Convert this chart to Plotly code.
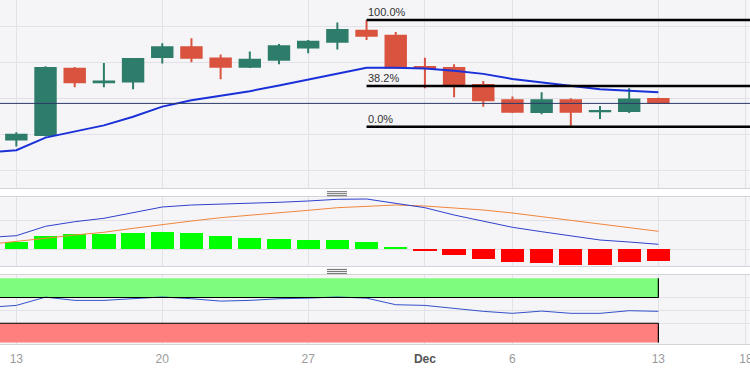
import numpy as np
import plotly.graph_objects as go
from plotly.subplots import make_subplots

# ---------------- data (EUR/USD daily) ----------------
DATES = ["2023-11-10", "2023-11-13", "2023-11-14", "2023-11-15", "2023-11-16", "2023-11-17",
         "2023-11-20", "2023-11-21", "2023-11-22", "2023-11-23", "2023-11-24",
         "2023-11-27", "2023-11-28", "2023-11-29", "2023-11-30", "2023-12-01",
         "2023-12-04", "2023-12-05", "2023-12-06", "2023-12-07", "2023-12-08",
         "2023-12-11", "2023-12-12", "2023-12-13"]
CANDLE_DATES = DATES[1:]

OPEN = [1.0685, 1.0697, 1.0881, 1.0844, 1.0846, 1.0914, 1.0941, 1.0910, 1.0887, 1.0906,
        1.0940, 1.0956, 1.0987, 1.0973, 1.0886, 1.0883, 1.0836, 1.0794, 1.0761, 1.0794,
        1.0763, 1.0764, 1.0797]
HIGH = [1.0705, 1.0888, 1.0886, 1.0897, 1.0910, 1.0952, 1.0966, 1.0921, 1.0929, 1.0950,
        1.0961, 1.1010, 1.1017, 1.0983, 1.0912, 1.0894, 1.0847, 1.0804, 1.0816, 1.0799,
        1.0778, 1.0827, 1.0801]
LOW = [1.0665, 1.0693, 1.0830, 1.0830, 1.0824, 1.0896, 1.0899, 1.0852, 1.0883, 1.0894,
       1.0924, 1.0935, 1.0961, 1.0884, 1.0827, 1.0802, 1.0776, 1.0758, 1.0755, 1.0720,
       1.0742, 1.0758, 1.0783]
CLOSE = [1.0698, 1.0883, 1.0844, 1.0846, 1.0908, 1.0941, 1.0912, 1.0887, 1.0906, 1.0944,
         1.0956, 1.0989, 1.0973, 1.0885, 1.0883, 1.0836, 1.0794, 1.0762, 1.0794, 1.0762,
         1.0764, 1.0796, 1.0787]

MOVING_AVG = [1.0648, 1.0655, 1.0690, 1.0708, 1.0724, 1.0748, 1.0776, 1.0794, 1.0806, 1.0819,
              1.0835, 1.0852, 1.0867, 1.0884, 1.0884, 1.0882, 1.0876, 1.0867, 1.0853, 1.0844,
              1.0834, 1.0824, 1.0820, 1.0816]

MACD = [0.00118, 0.00136, 0.00230, 0.00276, 0.00310, 0.00363, 0.00423, 0.00443, 0.00450, 0.00456,
        0.00470, 0.00483, 0.00500, 0.00503, 0.00460, 0.00416, 0.00343, 0.00283, 0.00220, 0.00176,
        0.00133, 0.00093, 0.00073, 0.00050]
SIGNAL = [0.00048, 0.00076, 0.00110, 0.00143, 0.00170, 0.00210, 0.00250, 0.00283, 0.00316, 0.00343,
          0.00366, 0.00390, 0.00416, 0.00433, 0.00443, 0.00433, 0.00416, 0.00393, 0.00363, 0.00326,
          0.00286, 0.00250, 0.00216, 0.00180]
HISTOGRAM = [0.00073, 0.00133, 0.00146, 0.00146, 0.00160, 0.00173, 0.00156, 0.00126, 0.00106, 0.00100,
             0.00090, 0.00086, 0.00073, 0.00016, -0.00014, -0.00057, -0.00097, -0.00134, -0.00144,
             -0.00157, -0.00157, -0.00134, -0.00124]

RSI = [54.6, 57.7, 70.6, 65.5, 65.5, 68.1, 70.8, 68.1, 64.4, 65.5, 68.1, 69.0, 70.8, 69.0,
       58.8, 57.7, 52.6, 48.5, 45.4, 48.9, 45.4, 45.4, 49.5, 48.5]
RSI_UPPER = 70
RSI_LOWER = 30

LAST_PRICE = 1.0785
FIB_RATIOS = [1.0, 0.382, 0.0]
FIB_LABELS = ["100.0%", "38.2%", "0.0%"]

TICK_DATES = ["2023-11-13", "2023-11-20", "2023-11-27", "2023-12-01", "2023-12-06",
              "2023-12-13", "2023-12-18"]
TICK_TEXT = ["13", "20", "27", "<b><span style='color:#555555'>Dec</span></b>", "6", "13", "18"]

PRICE_GRID_STEP = 0.01
MACD_GRID = [0.0, 0.00286]
RSI_GRID = [30, 50, 70]

# ---------------- styling ----------------
GREEN = "#2e7d6b"
RED = "#d9533f"
BG = "#f5f5f7"
GRID = "#e1e1e7"
BORDER = "#d3d3da"
FONT = "Liberation Sans, Arial, sans-serif"

ORIGIN = np.datetime64("2023-11-13")


def pos(d):
    return int(np.busday_count(ORIGIN, np.datetime64(d)))


x_all = [pos(d) for d in DATES]
x_c = [pos(d) for d in CANDLE_DATES]
x_ticks = [pos(d) for d in TICK_DATES]
X_RANGE = [-0.56, 25.14]

fig = make_subplots(rows=3, cols=1, shared_xaxes=True, vertical_spacing=0.02)

fig.add_trace(go.Candlestick(
    x=x_c, open=OPEN, high=HIGH, low=LOW, close=CLOSE,
    increasing=dict(line=dict(color=GREEN, width=2), fillcolor=GREEN),
    decreasing=dict(line=dict(color=RED, width=2), fillcolor=RED),
    whiskerwidth=0, showlegend=False, hoverinfo="skip"), row=1, col=1)

fig.add_trace(go.Scatter(x=x_all, y=MOVING_AVG, mode="lines",
                         line=dict(color="#1a30d8", width=2), showlegend=False), row=1, col=1)

fig.add_trace(go.Bar(x=x_c, y=HISTOGRAM, width=0.8,
                     marker=dict(color=["#00ff00" if v >= 0 else "#ff0000" for v in HISTOGRAM],
                                 line=dict(width=0)),
                     showlegend=False), row=2, col=1)
fig.add_trace(go.Scatter(x=x_all, y=SIGNAL, mode="lines",
                         line=dict(color="#f0863a", width=1), showlegend=False), row=2, col=1)
fig.add_trace(go.Scatter(x=x_all, y=MACD, mode="lines",
                         line=dict(color="#2f40cc", width=1), showlegend=False), row=2, col=1)

fig.add_trace(go.Scatter(x=x_all, y=RSI, mode="lines",
                         line=dict(color="#3350cc", width=1), showlegend=False), row=3, col=1)

# ---- Fibonacci retracement: swing high, then the lowest low after it ----
hi_i = int(np.argmax(HIGH))
lo_i = hi_i + int(np.argmin(LOW[hi_i:]))
hi, lo = HIGH[hi_i], LOW[lo_i]
fib_x0 = x_c[hi_i]
shapes = []
annotations = []
for r, lab in zip(FIB_RATIOS, FIB_LABELS):
    lvl = lo + r * (hi - lo)
    shapes.append(dict(type="line", xref="x", yref="y", x0=fib_x0, x1=X_RANGE[1] + 1,
                       y0=lvl, y1=lvl, line=dict(color="#000000", width=2.5)))
    annotations.append(dict(x=fib_x0, y=lvl, xref="x", yref="y", text=lab, showarrow=False,
                            xanchor="left", yanchor="bottom", xshift=-1, yshift=0,
                            font=dict(family=FONT, size=11, color="#333333")))

# last price line
shapes.append(dict(type="line", xref="paper", yref="y", x0=0, x1=1, y0=LAST_PRICE, y1=LAST_PRICE,
                   line=dict(color="#2b3a6a", width=1)))

# RSI bands
last_x = x_c[-1]
shapes.append(dict(type="rect", xref="x3", yref="y3", x0=X_RANGE[0] - 2, x1=last_x,
                   y0=RSI_UPPER, y1=100, fillcolor="#7dfc7d", line=dict(width=0), layer="between"))
shapes.append(dict(type="rect", xref="x3", yref="y3", x0=X_RANGE[0] - 2, x1=last_x,
                   y0=0, y1=RSI_LOWER, fillcolor="#ff7f7f", line=dict(width=0), layer="between"))
for y0, y1, yh in [(RSI_UPPER, 100, RSI_UPPER), (0, RSI_LOWER, RSI_LOWER)]:
    shapes.append(dict(type="line", xref="x3", yref="y3", x0=X_RANGE[0] - 2, x1=last_x,
                       y0=yh, y1=yh, line=dict(color="#000000", width=1.2)))
    shapes.append(dict(type="line", xref="x3", yref="y3", x0=last_x, x1=last_x,
                       y0=y0, y1=y1, line=dict(color="#000000", width=1.2)))

# pane resize handles
H_PLOT = 344.0
for base in (191.7, 269.4):
    for k in range(3):
        yy = 1 - (base + 2 * k) / H_PLOT
        shapes.append(dict(type="line", xref="paper", yref="paper", x0=327 / 750, x1=347 / 750,
                           y0=yy, y1=yy, line=dict(color="#6a6a6a", width=1)))

fig.update_xaxes(range=X_RANGE, tickvals=x_ticks, ticktext=TICK_TEXT, showgrid=True,
                 gridcolor=GRID, gridwidth=1, zeroline=False, showline=True, mirror=True,
                 linecolor=BORDER, linewidth=1, ticks="", rangeslider_visible=False,
                 showticklabels=False, fixedrange=True, automargin=False)
fig.update_xaxes(showticklabels=True, tickfont=dict(family=FONT, size=12, color="#9a9a9a"),
                 ticklabelstandoff=4, ticklabeloverflow="allow", row=3, col=1)

fig.update_yaxes(showticklabels=False, zeroline=False, showgrid=True, gridcolor=GRID,
                 showline=False, ticks="", fixedrange=True, automargin=False)

price_top = 1.10 + 26 / 3600
price_bot = 1.10 - 162.3 / 3600
fig.update_layout(
    width=750, height=370,
    margin=dict(l=0, r=0, t=0, b=26, pad=0, autoexpand=False),
    paper_bgcolor="#ffffff", plot_bgcolor=BG,
    boxgap=0.3, boxgroupgap=0,
    showlegend=False,
    font=dict(family=FONT),
    yaxis=dict(domain=[1 - 188.3 / H_PLOT, 1.0], range=[price_bot, price_top],
               tick0=1.0, dtick=PRICE_GRID_STEP),
    yaxis2=dict(domain=[1 - 266 / H_PLOT, 1 - 197.3 / H_PLOT], range=[-0.00167, 0.0052],
                tickvals=MACD_GRID),
    yaxis3=dict(domain=[0.0, 1 - 274.5 / H_PLOT], range=[-2.2, 105.7], tickvals=RSI_GRID),
    shapes=shapes,
    annotations=annotations,
    bargap=0,
)

fig.write_html("out.html", config={"displayModeBar": False},
               post_script="document.body.style.margin='0';document.body.style.overflow='hidden';")
